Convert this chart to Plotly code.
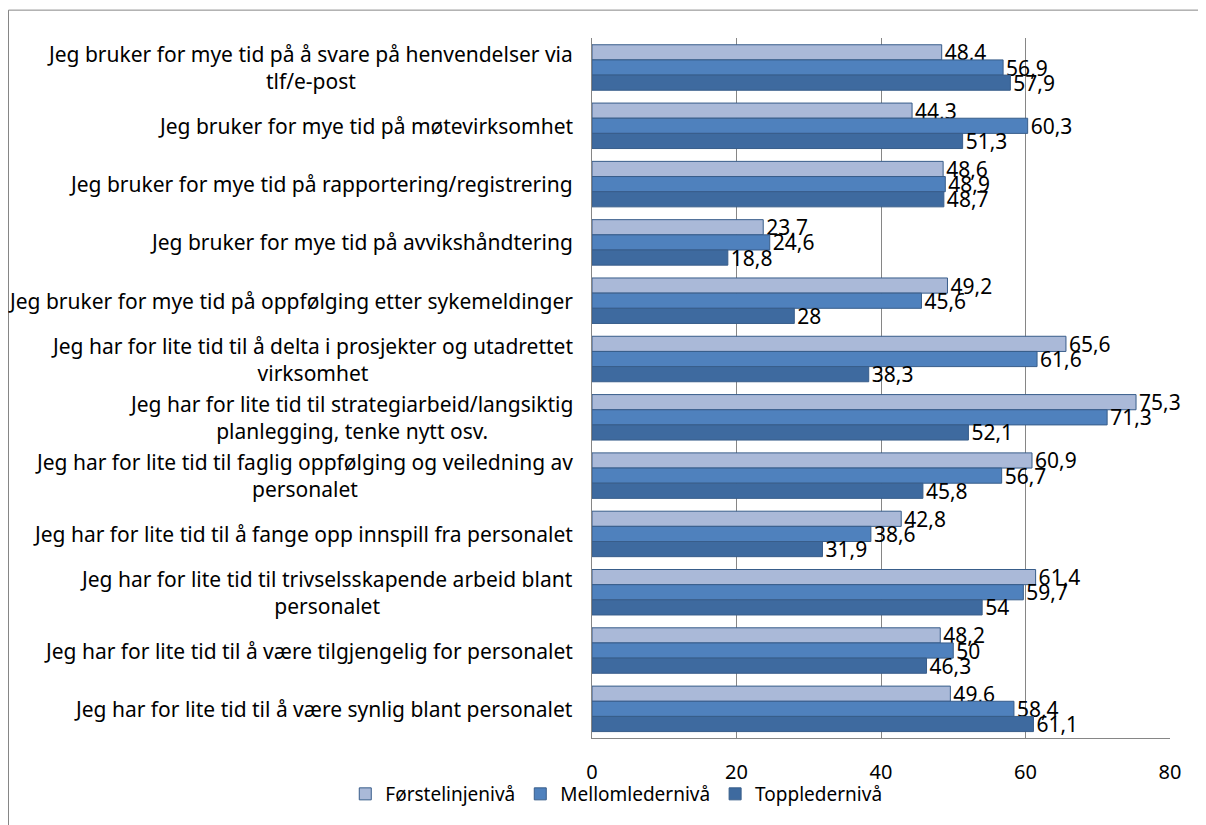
import plotly.graph_objects as go

kategorier = [
    "Jeg bruker for mye tid på å svare på henvendelser via<br>tlf/e-post",
    "Jeg bruker for mye tid på møtevirksomhet",
    "Jeg bruker for mye tid på rapportering/registrering",
    "Jeg bruker for mye tid på avvikshåndtering",
    "Jeg bruker for mye tid på oppfølging etter sykemeldinger",
    "Jeg har for lite tid til å delta i prosjekter og utadrettet<br>virksomhet",
    "Jeg har for lite tid til strategiarbeid/langsiktig<br>planlegging, tenke nytt osv.",
    "Jeg har for lite tid til faglig oppfølging og veiledning av<br>personalet",
    "Jeg har for lite tid til å fange opp innspill fra personalet",
    "Jeg har for lite tid til trivselsskapende arbeid blant<br>personalet",
    "Jeg har for lite tid til å være tilgjengelig for personalet",
    "Jeg har for lite tid til å være synlig blant personalet",
]

forstelinje = [48.4, 44.3, 48.6, 23.7, 49.2, 65.6, 75.3, 60.9, 42.8, 61.4, 48.2, 49.6]
mellomleder = [56.9, 60.3, 48.9, 24.6, 45.6, 61.6, 71.3, 56.7, 38.6, 59.7, 50, 58.4]
toppleder = [57.9, 51.3, 48.7, 18.8, 28, 38.3, 52.1, 45.8, 31.9, 54, 46.3, 61.1]

serier = [
    ("Førstelinjenivå", forstelinje, "#AAB9D8"),
    ("Mellomledernivå", mellomleder, "#4F81BD"),
    ("Toppledernivå", toppleder, "#3E6A9F"),
]

FONT = "Noto Sans"


def fmt(v):
    # norsk desimalkomma, heltall uten desimaler
    return str(int(v)) if v == int(v) else str(v).replace(".", ",")


fig = go.Figure()
for navn, verdier, farge in serier:
    fig.add_trace(go.Bar(
        name=navn, y=kategorier, x=verdier, orientation="h",
        marker=dict(color=farge, line=dict(color="#385D8A", width=1)),
        text=[fmt(v) for v in verdier], textposition="outside",
        constraintext="none", cliponaxis=False,
        textfont=dict(family=FONT, size=21, color="#000000"),
    ))

# kategoritekster som annotasjoner, midtstilt per linje som i Excel
for k in kategorier:
    fig.add_annotation(
        x=0, xref="paper", y=k, yref="y", text=k, showarrow=False,
        xanchor="right", xshift=-17, align="center",
        font=dict(family=FONT, size=21, color="#000000"),
    )

# ramme rundt diagrammet
fig.add_shape(type="rect", xref="paper", yref="paper",
              x0=-1.0095, x1=1.2, y0=-0.2, y1=1.0398,
              line=dict(color="#868686", width=1), layer="below")

fig.update_layout(
    width=1198, height=817,
    margin=dict(l=584, r=36, t=30, b=84),
    paper_bgcolor="white", plot_bgcolor="white",
    barmode="group", bargap=0.22, bargroupgap=0,
    font=dict(family=FONT, size=18, color="#000000"),
    showlegend=True,
    legend=dict(orientation="h", x=0.042, xanchor="center", y=-0.08, yanchor="middle",
                font=dict(family=FONT, size=19), traceorder="normal",
                bgcolor="rgba(0,0,0,0)"),
)
fig.update_xaxes(range=[0, 80], dtick=20, showgrid=True, gridcolor="#868686", gridwidth=1,
                 showline=True, linecolor="#868686", zeroline=False,
                 tickfont=dict(family=FONT, size=20), ticks="", ticklabelstandoff=16)
fig.update_yaxes(autorange="reversed", showticklabels=False, showline=True,
                 linecolor="#868686", showgrid=False, ticks="")

fig.write_html("out.html")
